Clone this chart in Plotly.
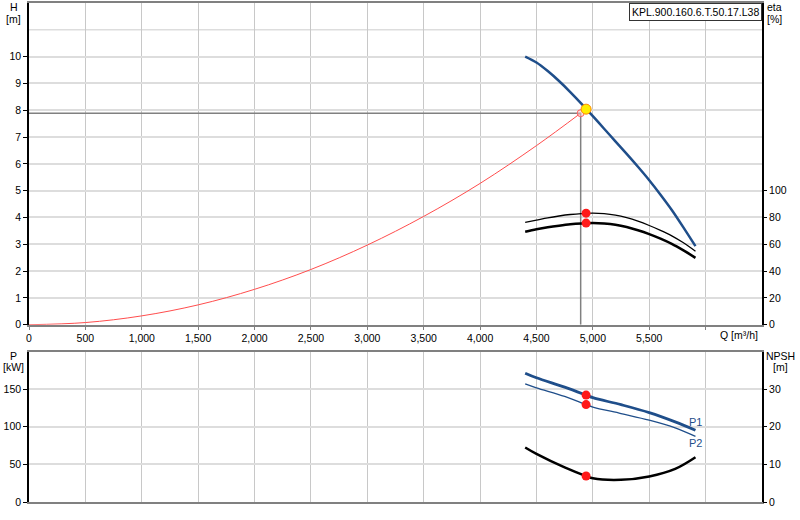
import plotly.graph_objects as go

# pump head curve H [m] over Q [m3/h]
q_pump = [4400, 4500, 4600, 4700, 4800, 4900, 5000, 5100, 5200, 5300, 5400, 5500, 5600, 5700, 5800, 5910]
h_pump = [10.0, 9.78, 9.46, 9.09, 8.68, 8.24, 7.78, 7.31, 6.84, 6.37, 5.89, 5.39, 4.85, 4.28, 3.65, 2.93]

# efficiency curves eta [%]
eta_upper = [76.3, 78.0, 79.7, 81.1, 82.2, 82.9, 83.2, 82.8, 81.7, 79.8, 77.2, 74.0, 70.4, 66.3, 61.3, 54.8]
eta_lower = [69.4, 71.2, 72.7, 73.9, 74.9, 75.5, 75.8, 75.5, 74.6, 72.9, 70.5, 67.6, 64.2, 60.3, 55.6, 49.9]

# system curve
q_sys = [0, 500, 1000, 1500, 2000, 2500, 3000, 3500, 4000, 4500, 4892]
h_sys = [0, 0.08, 0.33, 0.74, 1.32, 2.06, 2.97, 4.04, 5.27, 6.68, 7.89]

# power and NPSH
q_power = [4400, 4500, 4750, 4940, 5000, 5250, 5500, 5730, 5910]
p1 = [171.3, 165.2, 152.8, 142.2, 138.7, 129.4, 118.9, 106.6, 95.5]
p2 = [157.2, 151.9, 140.4, 129.5, 126.3, 117.6, 108.8, 98.6, 87.2]
npsh = [14.5, 12.8, 9.2, 6.9, 6.3, 5.9, 6.8, 8.8, 11.9]

# duty point
q_duty = 4940
h_duty = 8.04
eta_duty = [83.2, 75.8]
p_duty = [142.2, 129.5]
npsh_duty = 6.9

model_name = "KPL.900.160.6.T.50.17.L38"
q_ticks = list(range(0, 6001, 500))
q_ticktext = [f"{v:,}" for v in q_ticks[:-1]] + [""]

blue = "#1f4e8a"
red = "#ff1a1a"
grid_h = "#dddddd"
grid_v = "#c8c8c8"
font = dict(family="Liberation Sans, Arial, sans-serif", size=10.5, color="#000000")

fig = go.Figure()

# top panel
fig.add_trace(go.Scatter(x=q_sys, y=h_sys, mode="lines", line=dict(color="#ff4d4d", width=1, shape="spline"),
                         xaxis="x", yaxis="y"))
fig.add_trace(go.Scatter(x=[0, q_sys[-1], q_sys[-1]], y=[h_sys[-1], h_sys[-1], 0], mode="lines",
                         line=dict(color="#808080", width=1.5), xaxis="x", yaxis="y"))
fig.add_trace(go.Scatter(x=[q_sys[-1]], y=[h_sys[-1]], mode="markers",
                         marker=dict(size=7, color="rgba(255,200,200,0.5)", line=dict(color="#ff6060", width=1)),
                         xaxis="x", yaxis="y"))
fig.add_trace(go.Scatter(x=q_pump, y=h_pump, mode="lines", line=dict(color=blue, width=2.5, shape="spline",
                                                                     smoothing=0.8),
                         xaxis="x", yaxis="y"))
fig.add_trace(go.Scatter(x=q_pump, y=eta_upper, mode="lines", line=dict(color="#000000", width=1.3, shape="spline"),
                         xaxis="x", yaxis="y2"))
fig.add_trace(go.Scatter(x=q_pump, y=eta_lower, mode="lines", line=dict(color="#000000", width=2.5, shape="spline"),
                         xaxis="x", yaxis="y2"))
fig.add_trace(go.Scatter(x=[q_duty, q_duty], y=eta_duty, mode="markers", marker=dict(size=9, color=red),
                         xaxis="x", yaxis="y2"))
fig.add_trace(go.Scatter(x=[q_duty], y=[h_duty], mode="markers",
                         marker=dict(size=10, color="#ffee00", line=dict(color="#ff8a00", width=1)),
                         xaxis="x", yaxis="y"))

# bottom panel
fig.add_trace(go.Scatter(x=q_power, y=p1, mode="lines", line=dict(color=blue, width=2.8, shape="spline"),
                         xaxis="x2", yaxis="y3"))
fig.add_trace(go.Scatter(x=q_power, y=p2, mode="lines", line=dict(color=blue, width=1.3, shape="spline"),
                         xaxis="x2", yaxis="y3"))
fig.add_trace(go.Scatter(x=q_power, y=npsh, mode="lines", line=dict(color="#000000", width=2.5, shape="spline"),
                         xaxis="x2", yaxis="y4"))
fig.add_trace(go.Scatter(x=[q_duty, q_duty], y=p_duty, mode="markers", marker=dict(size=9, color=red),
                         xaxis="x2", yaxis="y3"))
fig.add_trace(go.Scatter(x=[q_duty], y=[npsh_duty], mode="markers", marker=dict(size=9, color=red),
                         xaxis="x2", yaxis="y4"))

xcommon = dict(range=[0, 6500], tickvals=q_ticks, showgrid=True, gridcolor=grid_v, gridwidth=1,
               showline=True, linecolor="#808080", linewidth=2, mirror=True, zeroline=False,
               ticks="outside", ticklen=3, tickcolor="#808080", tickfont=font, fixedrange=True)
ycommon = dict(showgrid=True, gridcolor=grid_h, gridwidth=1.5, showline=True, linecolor="#000000",
               linewidth=1.5, mirror=True, zeroline=False, ticks="outside", ticklen=4,
               tickcolor="#000000", tickfont=font)
yright = dict(side="right", showgrid=False, zeroline=False, ticks="outside", ticklen=4,
              tickcolor="#000000", tickfont=font, showline=False)

top_lo, bot_hi = 0.3553, 0.3014

fig.update_layout(
    width=800, height=520,
    margin=dict(l=29, r=38, t=1, b=18),
    paper_bgcolor="white", plot_bgcolor="white",
    showlegend=False,
    hovermode=False,
    font=font,
    xaxis=dict(xcommon, domain=[0, 1], anchor="y", ticktext=q_ticktext),
    yaxis=dict(ycommon, domain=[top_lo, 1], range=[0, 12], tickvals=list(range(0, 11))),
    yaxis2=dict(yright, overlaying="y", anchor="x", range=[0, 240], tickvals=list(range(0, 101, 20))),
    xaxis2=dict(xcommon, domain=[0, 1], anchor="y3", showticklabels=False, ticks=""),
    yaxis3=dict(ycommon, domain=[0, bot_hi], range=[0, 200], tickvals=[0, 50, 100, 150]),
    yaxis4=dict(yright, overlaying="y3", anchor="x2", range=[0, 40], tickvals=[0, 10, 20, 30]),
)

# gridline at H=11 without a tick
fig.add_shape(type="line", xref="x", yref="y", x0=0, x1=6500, y0=11, y1=11,
              line=dict(color=grid_h, width=1.5), layer="below")


def px_x(px):
    return (px - 29) / 733


def px_y(py):
    return 1 - (py - 1) / 501


labels = [
    ("H", 14, 5), ("[m]", 14, 17),
    ("eta", 774.5, 5), ("[%]", 774.5, 16.7),
    ("P", 14, 355), ("[kW]", 14, 366.7),
    ("NPSH", 780, 355.7), ("[m]", 780, 366.7),
    ("Q [m³/h]", 739, 334),
]
for text, x, y in labels:
    fig.add_annotation(text=text, x=px_x(x), y=px_y(y), xref="paper", yref="paper",
                       showarrow=False, xanchor="center", yanchor="middle", font=font)

fig.add_annotation(text=model_name, x=1, y=1, xref="paper", yref="paper", xanchor="right", yanchor="top",
                   showarrow=False, bgcolor="white", bordercolor="#333333", borderwidth=1, borderpad=2, font=font)

fig.add_annotation(text="P1", x=q_power[-1], y=106, xref="x2", yref="y3", showarrow=False,
                   font=dict(family=font["family"], size=11, color=blue))
fig.add_annotation(text="P2", x=q_power[-1], y=78, xref="x2", yref="y3", showarrow=False,
                   font=dict(family=font["family"], size=11, color=blue))

# drop the default page margin so the figure sits at the window's corner
fig.write_html("out.html", config={"displayModeBar": False},
               post_script="document.body.style.margin='0px';")
